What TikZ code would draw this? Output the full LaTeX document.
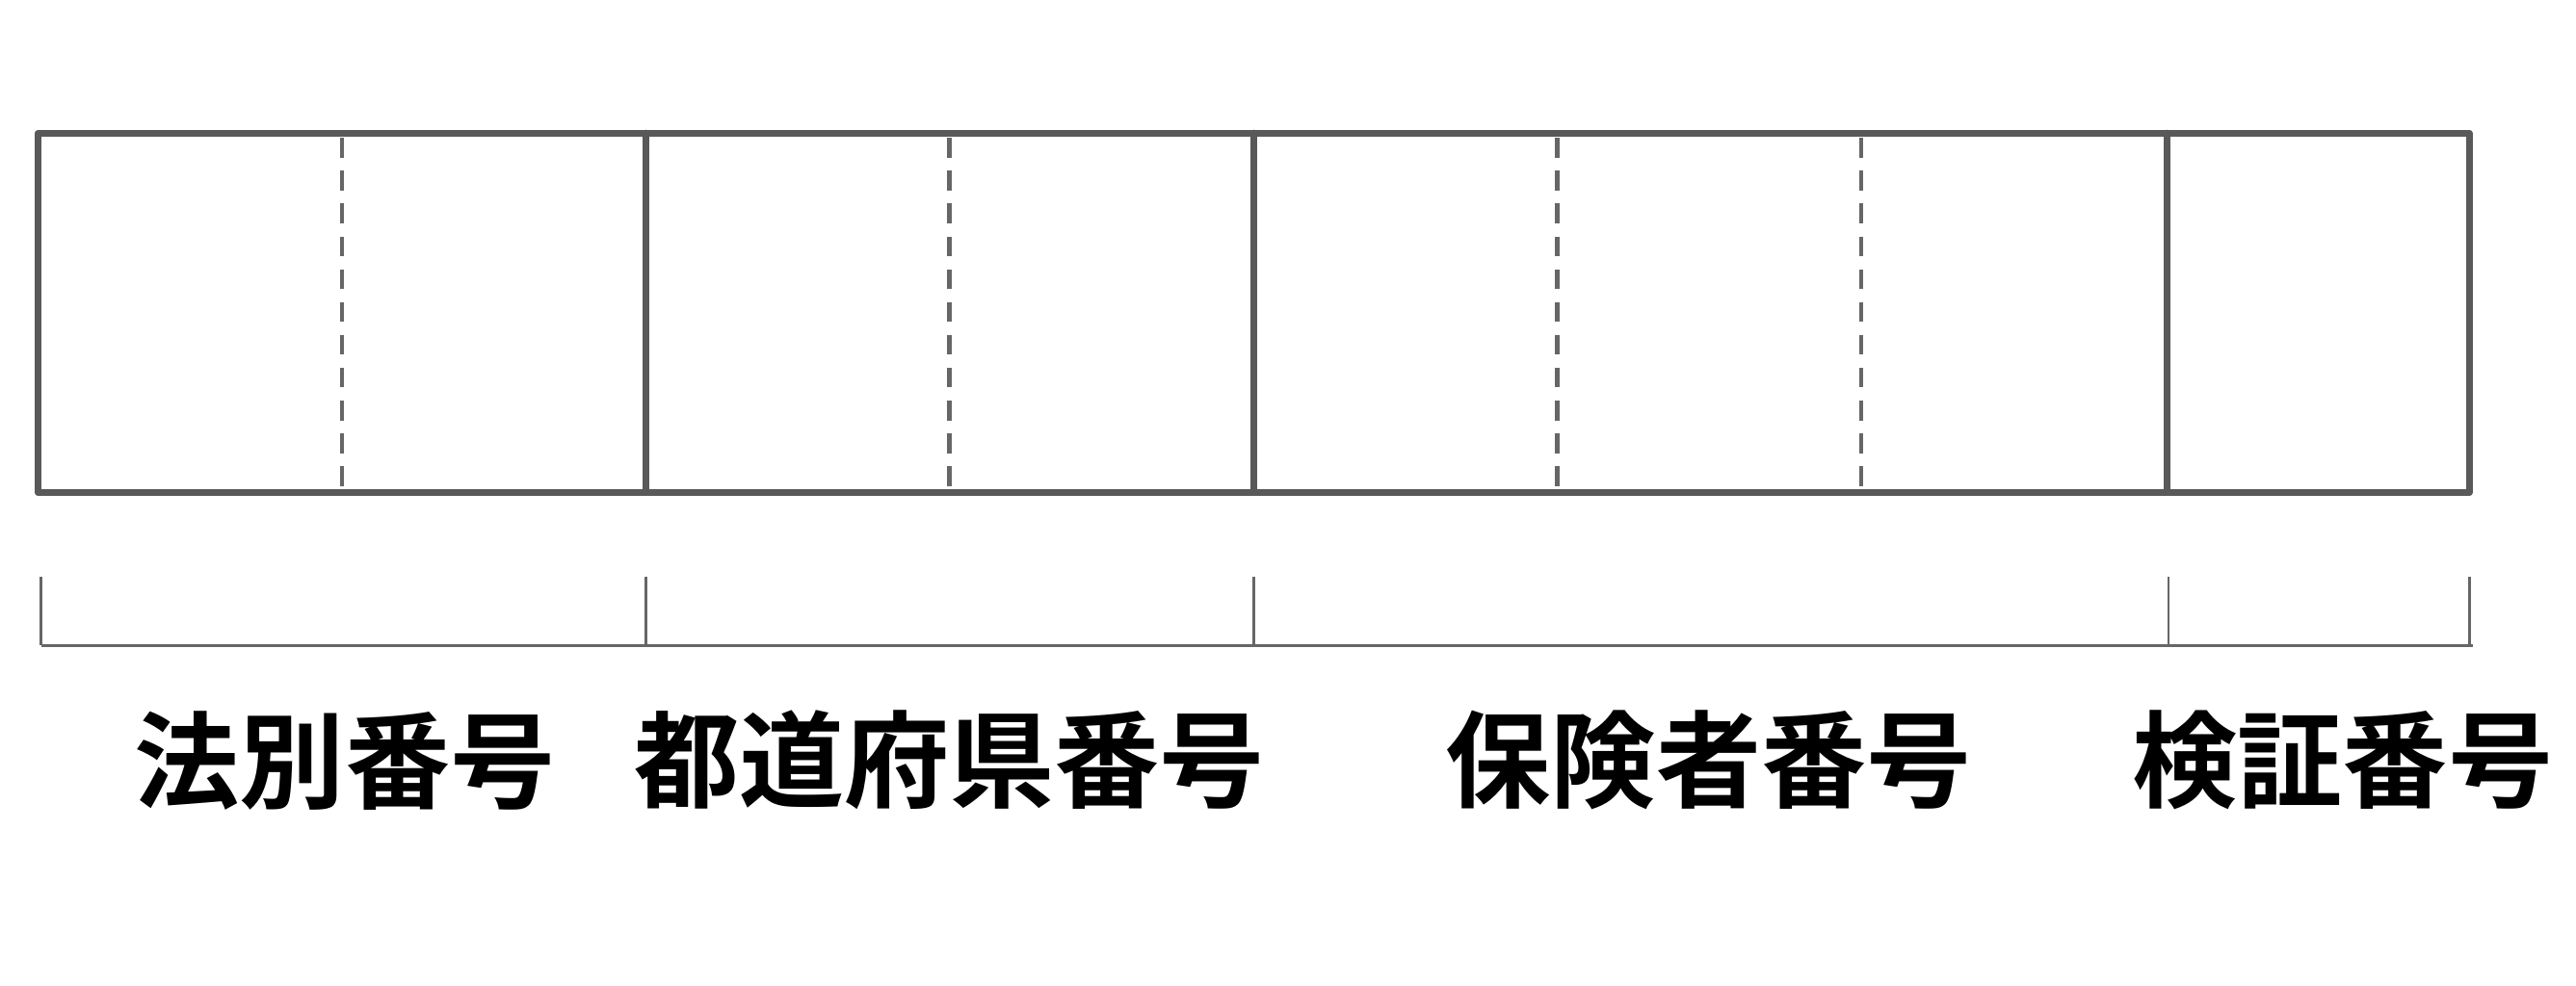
\documentclass[tikz,border=0pt]{standalone}
\usepackage{fontspec}
\newfontfamily\cjk{Noto Sans CJK JP}[BoldFont={Noto Sans CJK JP Bold}]
\begin{document}
\begin{tikzpicture}[x=0.5pt,y=-0.5pt,
  frame/.style={draw=black!65,line width=2pt,line cap=round,line join=round},
  dashline/.style={draw=black!60,line width=1.3pt,dash pattern=on 6pt off 4pt},
  brk/.style={draw=black!60,line width=0.8pt},
  lab/.style={font=\cjk\bfseries\fontsize{32pt}{36pt}\selectfont,inner sep=0pt}]
\useasboundingbox (0,0) rectangle (1568,600);
\draw[frame] (23,81) rectangle (1503,300);
\foreach \x in {393,763,1319} \draw[frame] (\x,81) -- (\x,300);
\foreach \x in {208,578,948,1133} \draw[dashline] (\x,84) -- (\x,297);
\draw[brk] (25,393) -- (1505,393);
\foreach \x in {25,393,763,1320,1503} \draw[brk] (\x,351) -- (\x,393);
\node[lab] (a) at (210,463) {法別番号};
\node[lab] (b) at (578,463) {都道府県番号};
\node[lab] (c) at (1040,463) {保険者番号};
\node[lab] (d) at (1426,463) {検証番号};
\end{tikzpicture}
\end{document}
